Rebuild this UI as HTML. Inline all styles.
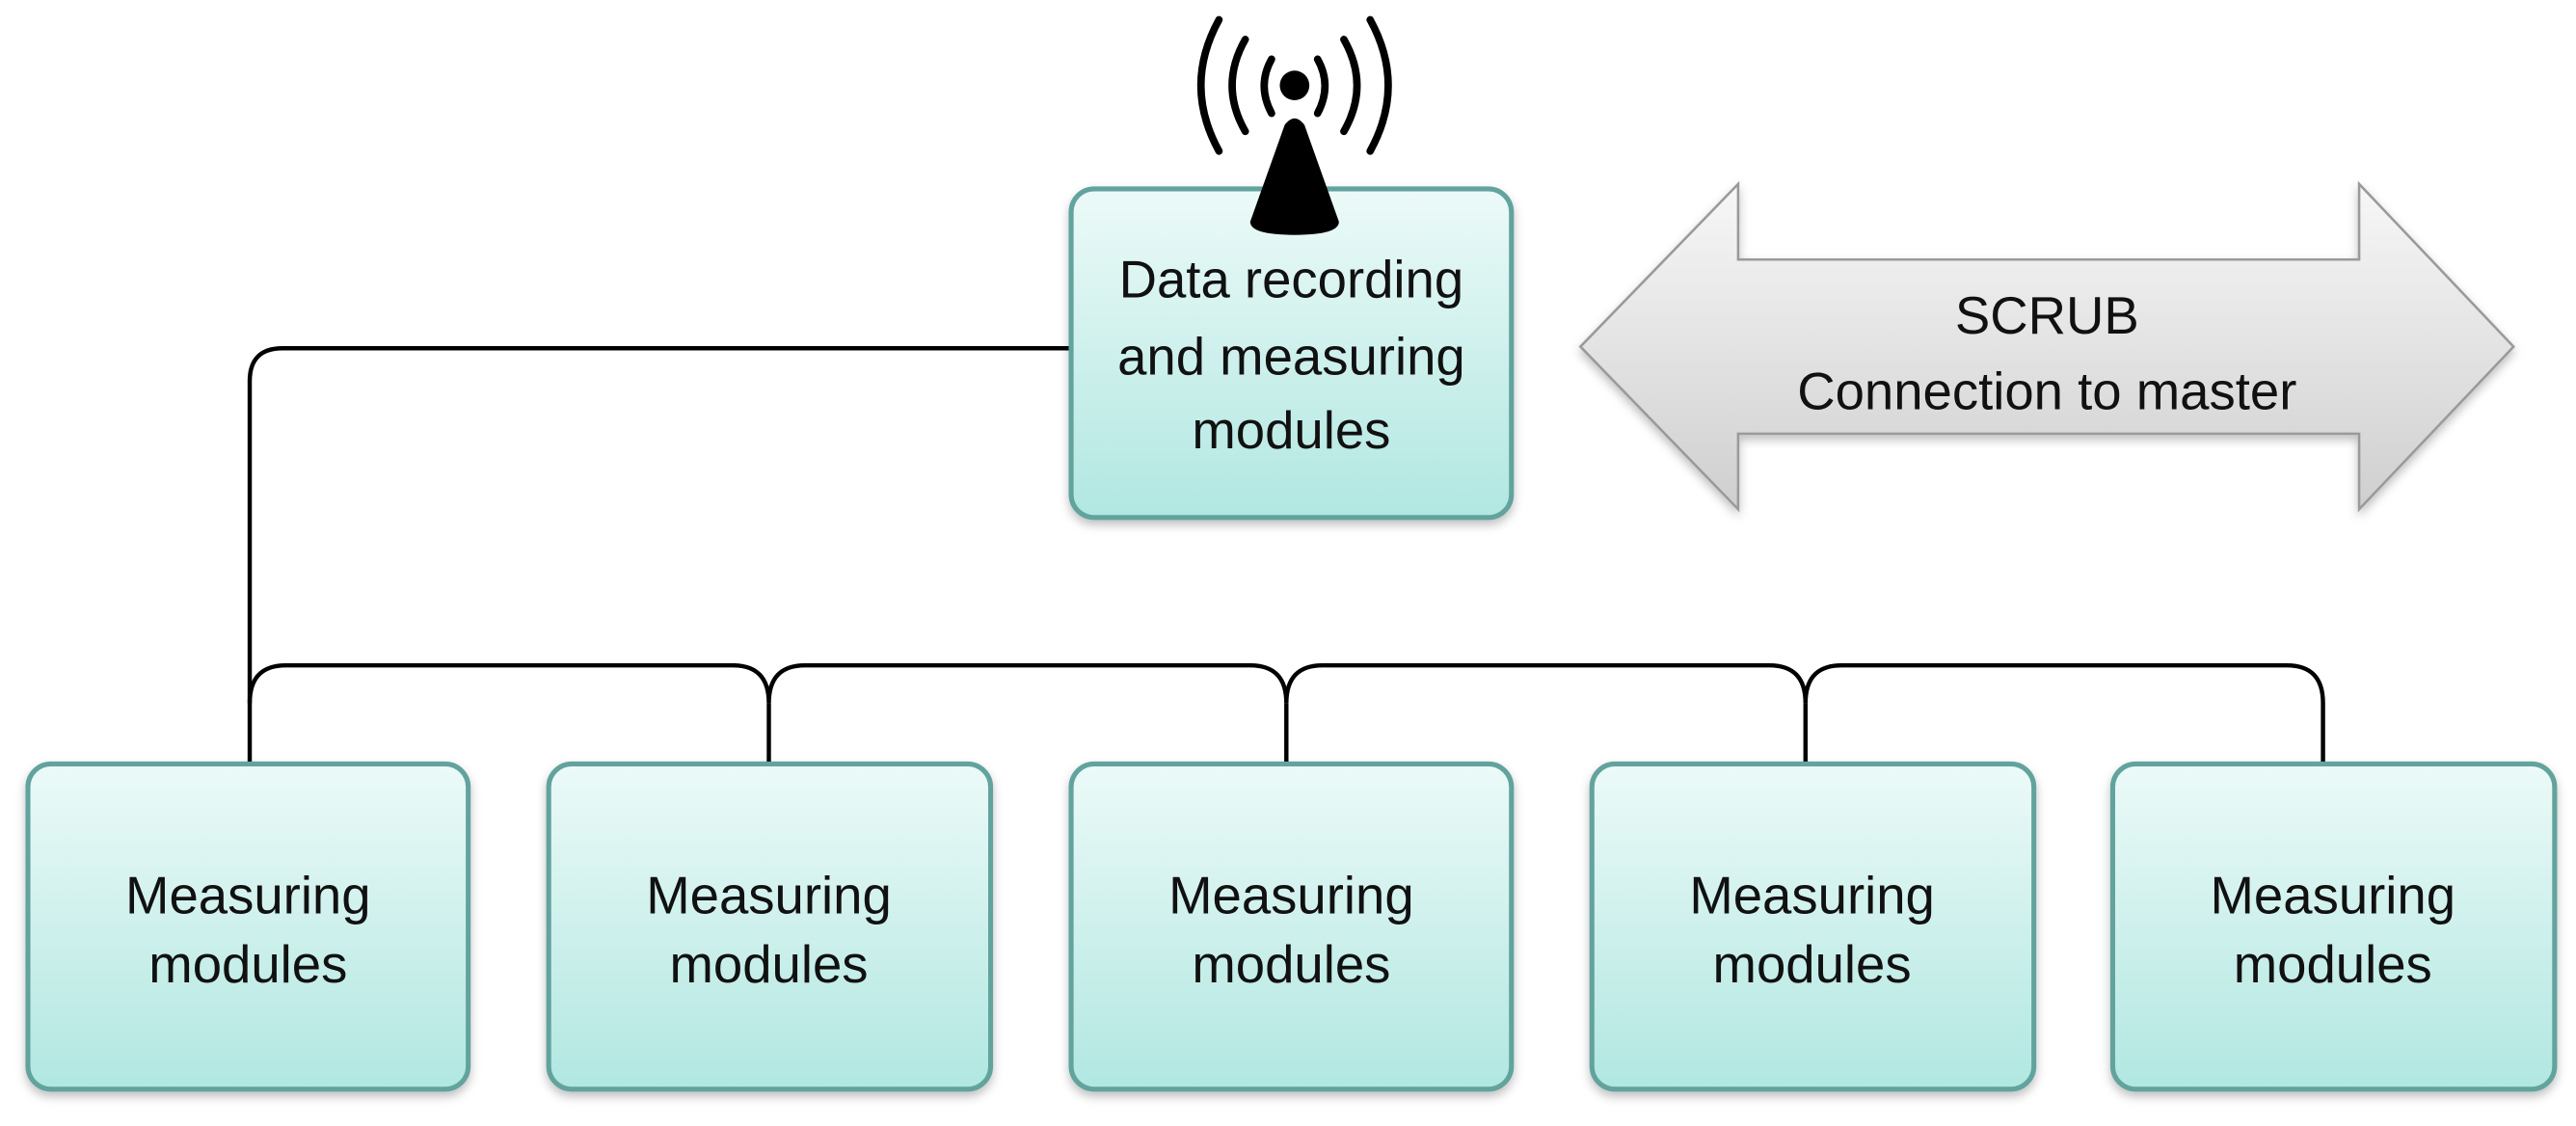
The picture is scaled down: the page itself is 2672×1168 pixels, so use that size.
<!DOCTYPE html>
<html><head><meta charset="utf-8"><style>
html,body{margin:0;padding:0;background:#fff;}
svg{display:block;}
text{font-family:"Liberation Sans",sans-serif;font-size:32px;fill:#111;text-anchor:middle;}
</style></head><body>
<svg width="2672" height="1168" viewBox="0 0 1568 685.4" preserveAspectRatio="none" xmlns="http://www.w3.org/2000/svg">
<defs>
<linearGradient id="g" x1="0" y1="0" x2="0" y2="1"><stop offset="0" stop-color="#ecfaf8"/><stop offset="1" stop-color="#b1e7e1"/></linearGradient>
<linearGradient id="a" x1="0" y1="0" x2="0" y2="1"><stop offset="0" stop-color="#f7f7f7"/><stop offset="1" stop-color="#cfcfcf"/></linearGradient>
<filter id="s" x="-10%" y="-10%" width="120%" height="125%"><feDropShadow dx="0" dy="3" stdDeviation="3" flood-color="#000" flood-opacity="0.25"/></filter>
</defs>
<g fill="none" stroke="#000" stroke-width="2.6">
<path d="M652,212 L172,212 Q152,212 152,232 L152,465"/>
<path d="M152,428 Q152,405 174,405 L446,405 Q468,405 468,428 Q468,405 490,405 L761,405 Q783,405 783,428 Q783,405 805,405 L1077,405 Q1099,405 1099,428 Q1099,405 1121,405 L1392,405 Q1414,405 1414,428 L1414,465"/>
<path d="M468,428 L468,465 M783,428 L783,465 M1099,428 L1099,465"/>
</g>
<path d="M962,211 L1058,112 L1058,158 L1436,158 L1436,112 L1530,211 L1436,310 L1436,264 L1058,264 L1058,310 Z" fill="url(#a)" stroke="#9a9a9a" stroke-width="1.5" filter="url(#s)"/>
<text x="1246" y="203">SCRUB</text>
<text x="1246" y="249">Connection to master</text>
<rect x="652" y="115" width="268" height="200" rx="14" fill="url(#g)" stroke="#62a39d" stroke-width="3" filter="url(#s)"/>
<text x="786" y="181">Data recording</text>
<text x="786" y="228">and measuring</text>
<text x="786" y="273">modules</text>
<g fill="none" stroke="#000" stroke-width="4.5" stroke-linecap="round">
<path d="M774,36 Q765,52 774,69"/><path d="M802,36 Q811,52 802,69"/>
<path d="M758,24 Q742,52 758,80"/><path d="M818,24 Q834,52 818,80"/>
<path d="M742,12 Q720,52 742,92"/><path d="M834,12 Q856,52 834,92"/>
</g>
<circle cx="788" cy="52" r="9" fill="#000"/>
<path d="M782,76 Q788,68 794,76 L815,135 Q815,143 788,143 Q761,143 761,135 Z" fill="#000"/>
<g fill="url(#g)" stroke="#62a39d" stroke-width="3" filter="url(#s)">
<rect x="17" y="465" width="268" height="198" rx="14"/>
<rect x="334" y="465" width="269" height="198" rx="14"/>
<rect x="652" y="465" width="268" height="198" rx="14"/>
<rect x="969" y="465" width="269" height="198" rx="14"/>
<rect x="1286" y="465" width="269" height="198" rx="14"/>
</g>
<g>
<text x="151" y="556">Measuring</text><text x="151" y="598">modules</text>
<text x="468" y="556">Measuring</text><text x="468" y="598">modules</text>
<text x="786" y="556">Measuring</text><text x="786" y="598">modules</text>
<text x="1103" y="556">Measuring</text><text x="1103" y="598">modules</text>
<text x="1420" y="556">Measuring</text><text x="1420" y="598">modules</text>
</g>
</svg>
</body></html>
